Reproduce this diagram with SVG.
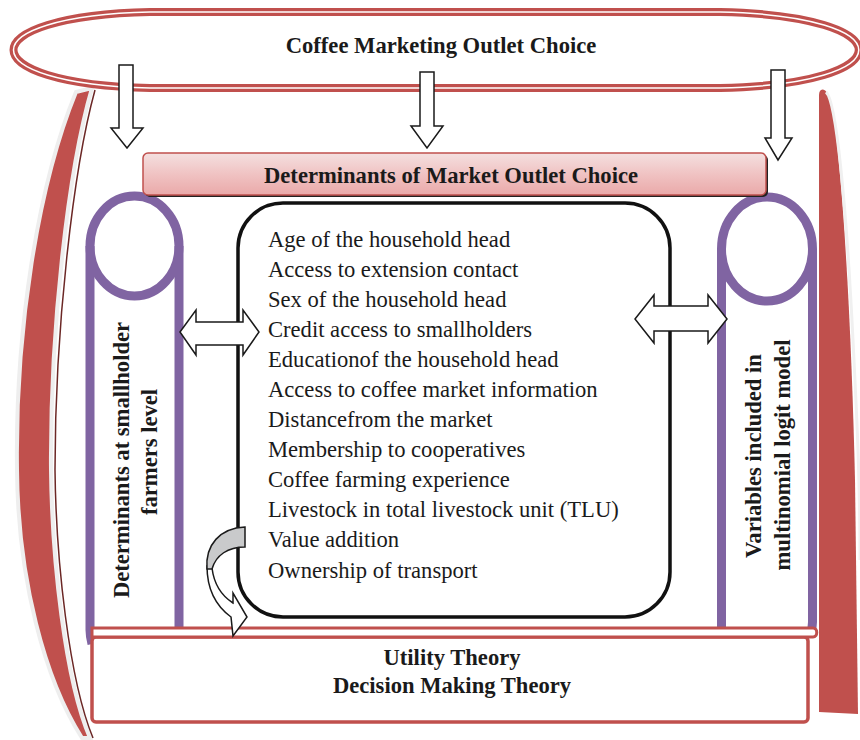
<svg xmlns="http://www.w3.org/2000/svg" width="860" height="740" viewBox="0 0 860 740">
<defs>
<linearGradient id="bannerGrad" x1="0" y1="0" x2="0" y2="1">
<stop offset="0" stop-color="#f4e0e0"/>
<stop offset="0.5" stop-color="#f0c3c3"/>
<stop offset="1" stop-color="#eaa9a9"/>
</linearGradient>
<style>
.red{fill:#c0504d}
.redline{fill:none;stroke:#c0504d}
.purple{fill:none;stroke:#8064a2;stroke-width:9}
.arrow{fill:#ffffff;stroke:#1a1a1a;stroke-width:1.5;stroke-linejoin:miter}
.title{font-family:"Liberation Serif","Times New Roman",serif;font-weight:bold;font-size:22.6px;fill:#1a1a1a;text-anchor:middle}
.item{font-family:"Liberation Serif","Times New Roman",serif;font-size:22.6px;fill:#1a1a1a}
</style>
</defs>
<rect width="860" height="740" fill="#ffffff"/>

<g id="left-red-pillar">
<path d="M76,92 C38,185 15,330 17,470 C18,580 45,680 82,738 L90,738 C65,680 52,560 51,470 C50,330 68,170 92,88 Z" class="red" stroke="#eeeeee" stroke-width="4"/>
<path d="M95,90 C73,170 55,330 55,470 C56,560 69,680 93,738" fill="none" stroke="#6b2725" stroke-width="1.5"/>
</g>

<g id="right-red-pillar">
<path d="M819,95 C819,86 829,86 833,110 C845,200 852,350 855,480 L858,714 L819,712 Z" class="red"/>
<path d="M826,92 C836,100 846,200 853,340 C857,420 860,480 860,560" fill="none" stroke="#f0f0f0" stroke-width="3"/>
</g>

<g id="coffee-marketing-outlet-choice">
<path d="M150,12 L720,12 C905,16 905,84 720,88 L150,88 C-32,84 -32,16 150,12 Z" class="redline" stroke-width="8"/>
<path d="M150,12 L720,12 C905,16 905,84 720,88 L150,88 C-32,84 -32,16 150,12 Z" fill="none" stroke="#ffffff" stroke-width="1.5"/>
<text x="441" y="53" class="title">Coffee Marketing Outlet Choice</text>
</g>

<g id="left-determinants-pillar">
<ellipse cx="134.5" cy="246" rx="44.5" ry="50" class="purple"/>
<path d="M90,246 L90,630 C90,636 91,640 92,644" class="purple"/>
<path d="M179,246 L179,628" class="purple"/>
<text class="title" transform="translate(129,460) rotate(-90)">Determinants at smallholder</text>
<text class="title" transform="translate(157,452) rotate(-90)">farmers level</text>
</g>

<g id="right-variables-pillar">
<ellipse cx="767" cy="249" rx="45.5" ry="52" class="purple"/>
<path d="M721.5,249 L721.5,628" class="purple"/>
<path d="M812.5,249 L812.5,622 C812.5,628 811,632 810,636" class="purple"/>
<text class="title" transform="translate(761,456) rotate(-90)">Variables included in</text>
<text class="title" transform="translate(790,455) rotate(-90)">multinomial logit model</text>
</g>

<g id="variables-list">
<rect x="238" y="203" width="432" height="414" rx="45" ry="45" fill="#ffffff" stroke="#111111" stroke-width="3.5"/>
<text x="268" y="247" class="item">Age of the household head</text>
<text x="268" y="277" class="item">Access to extension contact</text>
<text x="268" y="307" class="item">Sex of the household head</text>
<text x="268" y="337" class="item">Credit access to smallholders</text>
<text x="268" y="367" class="item">Educationof the household head</text>
<text x="268" y="397" class="item">Access to coffee market information</text>
<text x="268" y="427" class="item">Distancefrom the market</text>
<text x="268" y="457" class="item">Membership to cooperatives</text>
<text x="268" y="487" class="item">Coffee farming experience</text>
<text x="268" y="517" class="item">Livestock in total livestock unit (TLU)</text>
<text x="268" y="547" class="item">Value addition</text>
<text x="268" y="578" class="item">Ownership of transport</text>
</g>

<g id="determinants-banner">
<rect x="145" y="155" width="623" height="42" rx="5" fill="#222222"/>
<rect x="143" y="153" width="623" height="42" rx="5" fill="url(#bannerGrad)" stroke="#c0504d" stroke-width="1.5"/>
<text x="451" y="183" class="title">Determinants of Market Outlet Choice</text>
</g>

<g id="theory-box">
<rect x="92" y="637" width="716" height="85" rx="4" fill="#ffffff" stroke="#c0504d" stroke-width="3.5"/>
<path d="M92,637 L92,628 L813,628 C818,628 818,637 813,637 Z" fill="#ffffff" stroke="#c0504d" stroke-width="3"/>
<text x="452" y="665" class="title">Utility Theory</text>
<text x="452" y="693" class="title">Decision Making Theory</text>
</g>

<g id="connectors">
<polygon class="arrow" points="119,65 133,65 133,128 143,128 127,148 111,128 119,128"/>
<polygon class="arrow" points="420,72 434,72 434,126 443,126 427,148 411,126 420,126"/>
<polygon class="arrow" points="771,70 785,70 785,138 792,138 778,160 765,138 771,138"/>
<polygon class="arrow" points="180,332 196,310 196,322 243,322 243,310 259,332 243,355 243,345 196,345 196,355"/>
<polygon class="arrow" points="635,319 654,295 654,306 708,306 708,295 727,319 708,343 708,331 654,331 654,343"/>
<path class="arrow" d="M207,566 C207,590 216,606 231,617 L233,636 L247,617 L233,593 L233,603 C222,596 214,584 212,568 Z"/>
<path d="M245,527 L245,547 C228,547 216,555 212,569 L207,569 C205,545 220,528 245,527 Z" fill="#c9cacb" stroke="#1a1a1a" stroke-width="1.5"/>
</g>
</svg>
